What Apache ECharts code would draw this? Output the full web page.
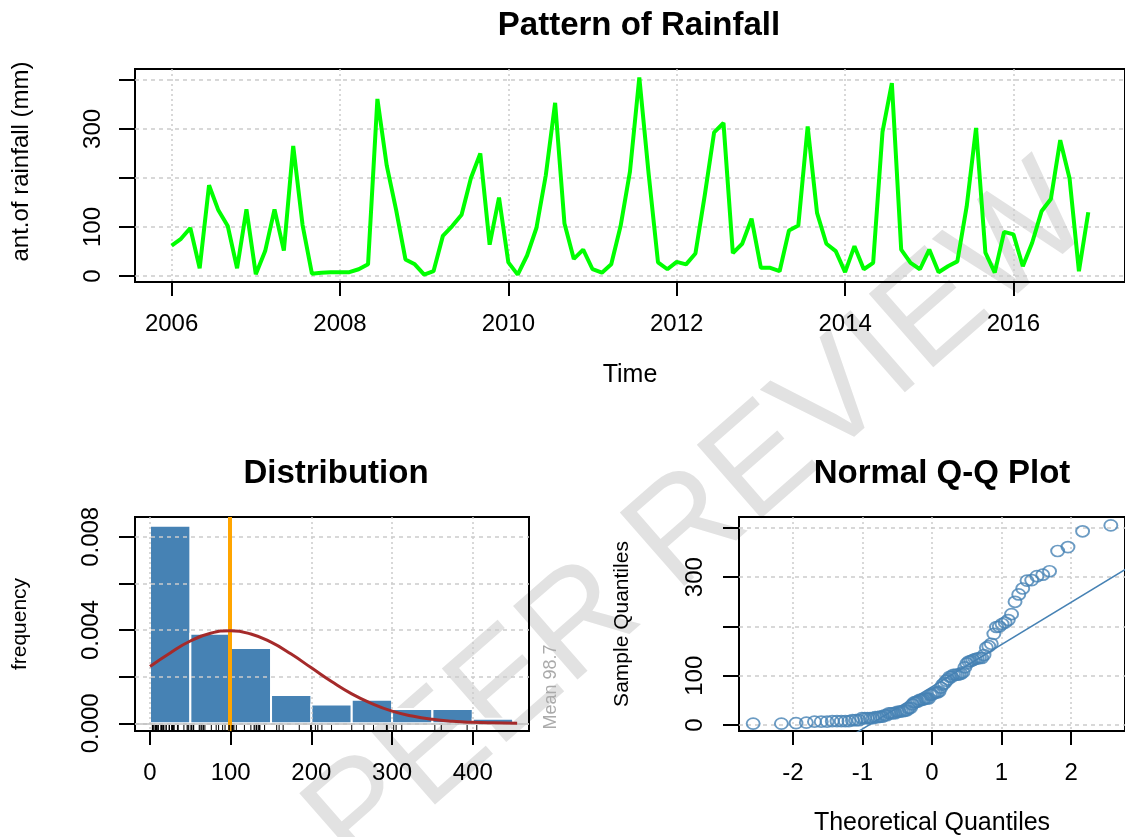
<!DOCTYPE html>
<html>
<head>
<meta charset="utf-8">
<title>Pattern of Rainfall</title>
<script src="https://cdn.jsdelivr.net/npm/echarts@6.0.0/dist/echarts.min.js"></script>
<style>
    body { margin: 0; padding: 0; background: #fff; }
    #main { width: 1125px; height: 837px; }
</style>
</head>
<body>
<div id="main"></div>
<script>
    // rainfall series, starts 2006, 9 observations per year
    var startYear = 2006;
    var perYear = 9;
    var rainfall = [
        62, 76, 98, 16, 185, 134, 102, 16, 136, 4,
        51, 136, 52, 265, 104, 5, 7, 8, 8, 8,
        14, 24, 361, 225, 135, 34, 24, 3, 10, 82,
        102, 125, 200, 250, 64, 160, 28, 3, 42, 98,
        205, 353, 107, 35, 54, 14, 7, 24, 102, 213,
        405, 208, 28, 14, 29, 24, 46, 165, 293, 312,
        47, 66, 117, 17, 17, 10, 93, 103, 305, 129,
        66, 51, 8, 61, 14, 27, 294, 393, 54, 27,
        14, 54, 8, 20, 30, 142, 302, 48, 7, 90,
        85, 20, 68, 132, 157, 277, 199, 10, 130
    ];
    var yearTicks = [2006, 2008, 2010, 2012, 2014, 2016];
    var rainTicks = [0, 100, 200, 300, 400];
    var rainLabels = [0, 100, 300];

    // histogram (density scale)
    var binEdges = [0, 50, 100, 150, 200, 250, 300, 350, 400, 450];
    var binDensity = [0.00848, 0.00384, 0.00323, 0.00121, 0.00081, 0.00101, 0.00061, 0.00061, 0.0002];
    var histTicks = [0, 100, 200, 300, 400];
    var densTicks = [0, 0.002, 0.004, 0.006, 0.008];
    var densLabels = [0, 0.004, 0.008];
    // normal curve
    var curveX = [0, 25, 50, 75, 100, 125, 150, 175, 200, 225, 250, 275, 300, 325, 350, 375, 400, 425, 455];
    var curveY = [0.00244, 0.00302, 0.00353, 0.00386, 0.00397, 0.00383, 0.00348, 0.00297, 0.00238, 0.00179, 0.00126,
        0.00084, 0.00052, 0.00031, 0.00017, 0.000087, 0.000042, 0.000019, 0.000006];
    var meanRain = 98.7;

    // Q-Q plot
    var qqTicks = [-2, -1, 0, 1, 2];

    var fontFam = 'Liberation Sans';
    var histYMin = -0.00033;

    // inverse normal cdf (Acklam)
    function qnorm(p) {
        var a = [-3.969683028665376e+01, 2.209460984245205e+02, -2.759285104469687e+02, 1.383577518672690e+02, -3.066479806614716e+01, 2.506628277459239e+00];
        var b = [-5.447609879822406e+01, 1.615858368580409e+02, -1.556989798598866e+02, 6.680131188771972e+01, -1.328068155288572e+01];
        var c = [-7.784894002430293e-03, -3.223964580411365e-01, -2.400758277161838e+00, -2.549732539343734e+00, 4.374664141464968e+00, 2.938163982698783e+00];
        var d = [7.784695709041462e-03, 3.224671290700398e-01, 2.445134137142996e+00, 3.754408661907416e+00];
        var pl = 0.02425, q, r;
        if (p < pl) {
            q = Math.sqrt(-2 * Math.log(p));
            return (((((c[0] * q + c[1]) * q + c[2]) * q + c[3]) * q + c[4]) * q + c[5]) / ((((d[0] * q + d[1]) * q + d[2]) * q + d[3]) * q + 1);
        }
        if (p > 1 - pl) {
            q = Math.sqrt(-2 * Math.log(1 - p));
            return -(((((c[0] * q + c[1]) * q + c[2]) * q + c[3]) * q + c[4]) * q + c[5]) / ((((d[0] * q + d[1]) * q + d[2]) * q + d[3]) * q + 1);
        }
        q = p - 0.5;
        r = q * q;
        return (((((a[0] * r + a[1]) * r + a[2]) * r + a[3]) * r + a[4]) * r + a[5]) * q / (((((b[0] * r + b[1]) * r + b[2]) * r + b[3]) * r + b[4]) * r + 1);
    }

    function quantile7(sorted, p) {
        var h = (sorted.length - 1) * p;
        var lo = Math.floor(h);
        var hi = Math.min(lo + 1, sorted.length - 1);
        return sorted[lo] + (h - lo) * (sorted[hi] - sorted[lo]);
    }

    var lineData = rainfall.map(function (v, i) { return [startYear + i / perYear, v]; });
    var sorted = rainfall.slice().sort(function (a, b) { return a - b; });
    var n = sorted.length;
    var qqData = sorted.map(function (v, i) { return [qnorm((i + 0.5) / n), v]; });
    var q1 = quantile7(sorted, 0.25), q3 = quantile7(sorted, 0.75);
    var slope = (q3 - q1) / (qnorm(0.75) - qnorm(0.25));
    var intercept = q1 - slope * qnorm(0.25);
    var qqLine = [[-2.78, intercept - slope * 2.78], [2.78, intercept + slope * 2.78]];
    var histData = binDensity.map(function (d, i) { return [binEdges[i], binEdges[i + 1], d]; });
    var curveData = curveX.map(function (x, i) { return [x, curveY[i]]; });

    var tickStyle = {color: '#000', width: 2};
    var dashGrid = {type: [4, 4], color: '#cccccc', width: 1.5};
    var dotGrid = {type: [2, 3], color: '#cccccc', width: 1.5};
    var plain = function (v) { return String(v); };

    function xAx(idx, min, max, ticks, name, extra) {
        var ax = {
            type: 'value', gridIndex: idx, min: min, max: max,
            name: name, nameLocation: 'middle', nameGap: 80,
            nameTextStyle: {fontSize: 25, color: '#000', fontFamily: fontFam},
            axisLine: {show: false, onZero: false},
            axisTick: {show: true, customValues: ticks, length: 14, lineStyle: tickStyle},
            axisLabel: {customValues: ticks, fontSize: 24, color: '#000', margin: 30, fontFamily: fontFam, formatter: plain},
            splitLine: {show: true, lineStyle: dotGrid}
        };
        return Object.assign(ax, extra || {});
    }

    function yAx(idx, min, max, ticks, labels, name, nameStyle, fmt, margin, extra) {
        var ax = {
            type: 'value', gridIndex: idx, min: min, max: max,
            name: name, nameLocation: 'middle', nameGap: 102, nameRotate: 90,
            nameTextStyle: Object.assign({color: '#000', fontFamily: fontFam}, nameStyle),
            axisLine: {show: false, onZero: false},
            axisTick: {show: true, customValues: ticks, length: 16, lineStyle: tickStyle},
            axisLabel: {customValues: labels, rotate: 90, fontSize: 24, color: '#000', margin: margin, fontFamily: fontFam, formatter: fmt},
            splitLine: {show: true, lineStyle: dashGrid}
        };
        return Object.assign(ax, extra || {});
    }

    var chart = echarts.init(document.getElementById('main'));
    var option = {
        animation: false,
        backgroundColor: '#fff',
        textStyle: {fontFamily: fontFam},
        title: [
            {text: 'Pattern of Rainfall', left: 634, top: 4, textAlign: 'center', textStyle: {fontSize: 33, fontWeight: 'bold', color: '#000', fontFamily: fontFam}},
            {text: 'Distribution', left: 331, top: 452, textAlign: 'center', textStyle: {fontSize: 33, fontWeight: 'bold', color: '#000', fontFamily: fontFam}},
            {text: 'Normal Q-Q Plot', left: 937, top: 452, textAlign: 'center', textStyle: {fontSize: 33, fontWeight: 'bold', color: '#000', fontFamily: fontFam}}
        ],
        graphic: [
            {type: 'text', x: 700, y: 520, rotation: 0.72, z: -10, silent: true,
                style: {text: 'PEER REVIEW', font: '142px "Liberation Sans"', fill: '#e2e2e2', align: 'center', verticalAlign: 'middle'}},
            {type: 'text', x: 551, y: 687, rotation: Math.PI / 2, silent: true,
                style: {text: 'Mean 98.7', font: '18px "Liberation Sans"', fill: '#aaaaaa', align: 'center', verticalAlign: 'middle'}}
        ],
        grid: [
            {left: 135, top: 69, width: 997, height: 213, show: true, borderColor: '#000', borderWidth: 2},
            {left: 135, top: 517, width: 394, height: 214, show: true, borderColor: '#000', borderWidth: 2},
            {left: 739, top: 517, width: 394, height: 214, show: true, borderColor: '#000', borderWidth: 2}
        ],
        xAxis: [
            xAx(0, 2005.565, 2017.325, yearTicks, 'Time', {nameGap: 81}),
            xAx(1, -18.6, 469.7, histTicks, '', {z: 5}),
            xAx(2, -2.776, 2.776, qqTicks, 'Theoretical Quantiles', {nameGap: 80})
        ],
        yAxis: [
            yAx(0, -12, 422, rainTicks, rainLabels, 'ant.of rainfall (mm)', {fontSize: 24, padding: [0, 0, 0, 28]}, plain, 30, {}),
            yAx(1, histYMin, 0.00885, densTicks, densLabels, 'frequency', {fontSize: 21}, function (v) { return v.toFixed(3); }, 32, {z: 5, nameGap: 104}),
            yAx(2, -12, 422, rainTicks, rainLabels, 'Sample Quantiles', {fontSize: 21}, plain, 32, {nameGap: 106})
        ],
        series: [
            {
                type: 'line', xAxisIndex: 0, yAxisIndex: 0, data: lineData,
                symbol: 'none', lineStyle: {color: '#00ff00', width: 4}, z: 3
            },
            {
                type: 'custom', xAxisIndex: 1, yAxisIndex: 1, data: histData,
                encode: {x: [0, 1], y: 2},
                renderItem: function (params, api) {
                    var p1 = api.coord([api.value(0), api.value(2)]);
                    var p2 = api.coord([api.value(1), 0]);
                    return {
                        type: 'rect',
                        shape: {x: p1[0], y: p1[1], width: p2[0] - p1[0], height: p2[1] - p1[1]},
                        style: {fill: '#4682b4', stroke: '#fff', lineWidth: 2}
                    };
                },
                z: 2
            },
            {
                type: 'line', xAxisIndex: 1, yAxisIndex: 1, data: [], z: 3,
                markLine: {
                    silent: true, symbol: 'none', label: {show: false},
                    data: [
                        {yAxis: 0, lineStyle: {color: '#c0c0c0', width: 1.5, type: 'solid'}},
                        {xAxis: meanRain, lineStyle: {color: '#ffa500', width: 4, type: 'solid'}}
                    ]
                }
            },
            {
                type: 'custom', xAxisIndex: 1, yAxisIndex: 1,
                data: rainfall.map(function (v) { return [v]; }),
                encode: {x: 0},
                renderItem: function (params, api) {
                    var p = api.coord([api.value(0), histYMin]);
                    return {type: 'line', shape: {x1: p[0], y1: p[1], x2: p[0], y2: p[1] - 6}, style: {stroke: '#000', lineWidth: 1}};
                },
                z: 6
            },
            {
                type: 'line', xAxisIndex: 1, yAxisIndex: 1, data: curveData, smooth: true,
                symbol: 'none', lineStyle: {color: '#a52a2a', width: 3}, z: 6
            },
            {
                type: 'scatter', xAxisIndex: 2, yAxisIndex: 2, data: qqData,
                symbol: 'circle', symbolSize: [13, 11],
                itemStyle: {color: 'rgba(255,255,255,0)', borderColor: '#4682b4', borderWidth: 1.8}, z: 3
            },
            {
                type: 'line', xAxisIndex: 2, yAxisIndex: 2, data: qqLine, clip: true,
                symbol: 'none', lineStyle: {color: '#4682b4', width: 1.5}, z: 3
            }
        ]
    };
    chart.setOption(option);
</script>
</body>
</html>
